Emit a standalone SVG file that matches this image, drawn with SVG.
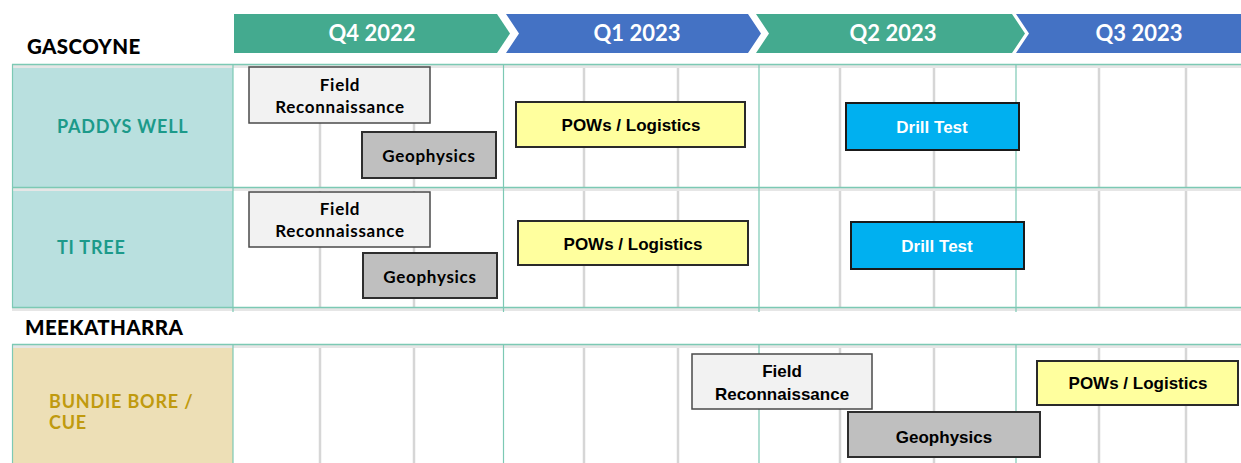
<svg xmlns="http://www.w3.org/2000/svg" width="1241" height="463" viewBox="0 0 1241 463">
<style>
.qt{font-family:Lato,"Noto Sans",sans-serif;font-weight:700;font-size:22px;fill:#fff;text-anchor:middle}
.region{font-family:Lato,"Noto Sans",sans-serif;font-weight:900;font-size:20.5px;letter-spacing:0.4px;fill:#000}
.site{font-family:Lato,"Noto Sans",sans-serif;font-weight:700;font-size:18px;letter-spacing:0.8px}
.teal{fill:#1C9A8A}
.gold{fill:#C09A0E}
.tl{font-family:Lato,"Noto Sans",sans-serif;font-weight:700;font-size:17px;letter-spacing:0.7px;fill:#000;text-anchor:middle}
.tc{font-family:"Liberation Sans",Arial,sans-serif;font-weight:700;font-size:17px;fill:#000;text-anchor:middle}
.white{fill:#fff}
.recon{fill:#F2F2F2;stroke:#4A4A4A;stroke-width:1.5}
.geo{fill:#BFBFBF;stroke:#2E2E2E;stroke-width:2}
.pow{fill:#FFFF9E;stroke:#2A2A2A;stroke-width:2}
.drill{fill:#00B0F0;stroke:#1A1A1A;stroke-width:2}
.hline{stroke:#7CC9B4;stroke-width:1.5}
.hshadow{stroke:#E6E6E6;stroke-width:3}
.vmajor{stroke:#7CC9B4;stroke-width:1.2}
.vminor{stroke:#D6D6D6;stroke-width:2.5}
</style>
<rect width="1241" height="463" fill="#fff"/>
<g id="header">
<path d="M234,14 H497 L510,33.5 L497,53 H234 Z" fill="#44AA8F"/>
<path d="M506,14 H748 L761,33.5 L748,53 H506 L519,33.5 Z" fill="#4472C4"/>
<path d="M756,14 H1012 L1025,33.5 L1012,53 H756 L769,33.5 Z" fill="#44AA8F"/>
<path d="M1016,14 H1241 V53 H1016 L1029,33.5 Z" fill="#4472C4"/>
<text class="qt" x="372" y="41">Q4 2022</text>
<text class="qt" x="637" y="41">Q1 2023</text>
<text class="qt" x="893" y="41">Q2 2023</text>
<text class="qt" x="1139" y="41">Q3 2023</text>
</g>
<g id="grid">
<rect x="12" y="64" width="221" height="243" fill="#B9E0DF"/>
<rect x="12" y="344" width="221" height="119" fill="#EDDFB6"/>
<g class="vminor">
<line x1="320" y1="64" x2="320" y2="309"/><line x1="414" y1="64" x2="414" y2="309"/>
<line x1="584" y1="64" x2="584" y2="309"/><line x1="678" y1="64" x2="678" y2="309"/>
<line x1="840" y1="64" x2="840" y2="309"/><line x1="934" y1="64" x2="934" y2="309"/>
<line x1="1099" y1="64" x2="1099" y2="309"/><line x1="1186" y1="64" x2="1186" y2="309"/>
<line x1="320" y1="344" x2="320" y2="463"/><line x1="414" y1="344" x2="414" y2="463"/>
<line x1="584" y1="344" x2="584" y2="463"/><line x1="678" y1="344" x2="678" y2="463"/>
<line x1="840" y1="344" x2="840" y2="463"/><line x1="934" y1="344" x2="934" y2="463"/>
<line x1="1099" y1="344" x2="1099" y2="463"/><line x1="1186" y1="344" x2="1186" y2="463"/>
</g>
<g class="hshadow">
<line x1="12" y1="66.5" x2="1241" y2="66.5"/><line x1="12" y1="189.5" x2="1241" y2="189.5"/>
<line x1="12" y1="309.5" x2="1241" y2="309.5"/><line x1="12" y1="346.5" x2="1241" y2="346.5"/>
</g>
<g class="hline">
<line x1="12" y1="64.5" x2="1241" y2="64.5"/><line x1="12" y1="187.5" x2="1241" y2="187.5"/>
<line x1="12" y1="307.5" x2="1241" y2="307.5"/><line x1="12" y1="344.5" x2="1241" y2="344.5"/>
</g>
<g class="vmajor">
<line x1="12.5" y1="64" x2="12.5" y2="308"/><line x1="233" y1="64" x2="233" y2="312"/>
<line x1="503.5" y1="64" x2="503.5" y2="312"/><line x1="759" y1="64" x2="759" y2="312"/>
<line x1="1016" y1="64" x2="1016" y2="312"/>
<line x1="12.5" y1="344" x2="12.5" y2="463"/><line x1="233" y1="344" x2="233" y2="463"/>
<line x1="503.5" y1="344" x2="503.5" y2="463"/><line x1="759" y1="344" x2="759" y2="463"/>
<line x1="1016" y1="344" x2="1016" y2="463"/>
</g>
</g>
<g id="label-gascoyne"><text class="region" x="27" y="54">GASCOYNE</text></g>
<g id="label-meekatharra"><text class="region" x="25" y="335">MEEKATHARRA</text></g>
<g id="site-paddys-well"><text class="site teal" x="57" y="133">PADDYS WELL</text></g>
<g id="site-ti-tree"><text class="site teal" x="57" y="254">TI TREE</text></g>
<g id="site-bundie-bore"><text class="site gold" x="49" y="408">BUNDIE BORE /</text><text class="site gold" x="49" y="429">CUE</text></g>
<g id="pw-recon"><rect class="recon" x="249" y="67" width="181" height="56"/><text class="tl" x="340" y="91">Field</text><text class="tl" x="340" y="113">Reconnaissance</text></g>
<g id="pw-geo"><rect class="geo" x="362" y="132" width="134" height="46"/><text class="tl" x="429" y="162">Geophysics</text></g>
<g id="pw-pows"><rect class="pow" x="516" y="102" width="229" height="45"/><text class="tc" x="631" y="131">POWs / Logistics</text></g>
<g id="pw-drill"><rect class="drill" x="846" y="103" width="173" height="47"/><text class="tc white" x="932" y="133">Drill Test</text></g>
<g id="tt-recon"><rect class="recon" x="249" y="192" width="181" height="55"/><text class="tl" x="340" y="215">Field</text><text class="tl" x="340" y="237">Reconnaissance</text></g>
<g id="tt-geo"><rect class="geo" x="363" y="253" width="134" height="45"/><text class="tl" x="430" y="283">Geophysics</text></g>
<g id="tt-pows"><rect class="pow" x="518" y="221" width="230" height="44"/><text class="tc" x="633" y="250">POWs / Logistics</text></g>
<g id="tt-drill"><rect class="drill" x="851" y="222" width="173" height="47"/><text class="tc white" x="937" y="252">Drill Test</text></g>
<g id="bb-recon"><rect class="recon" x="692" y="354" width="180" height="55"/><text class="tc" x="782" y="377">Field</text><text class="tc" x="782" y="400">Reconnaissance</text></g>
<g id="bb-geo"><rect class="geo" x="848" y="412" width="192" height="45"/><text class="tc" x="944" y="443">Geophysics</text></g>
<g id="bb-pows"><rect class="pow" x="1037" y="361" width="201" height="44"/><text class="tc" x="1138" y="389">POWs / Logistics</text></g>
<g id="connectors"/>
</svg>
